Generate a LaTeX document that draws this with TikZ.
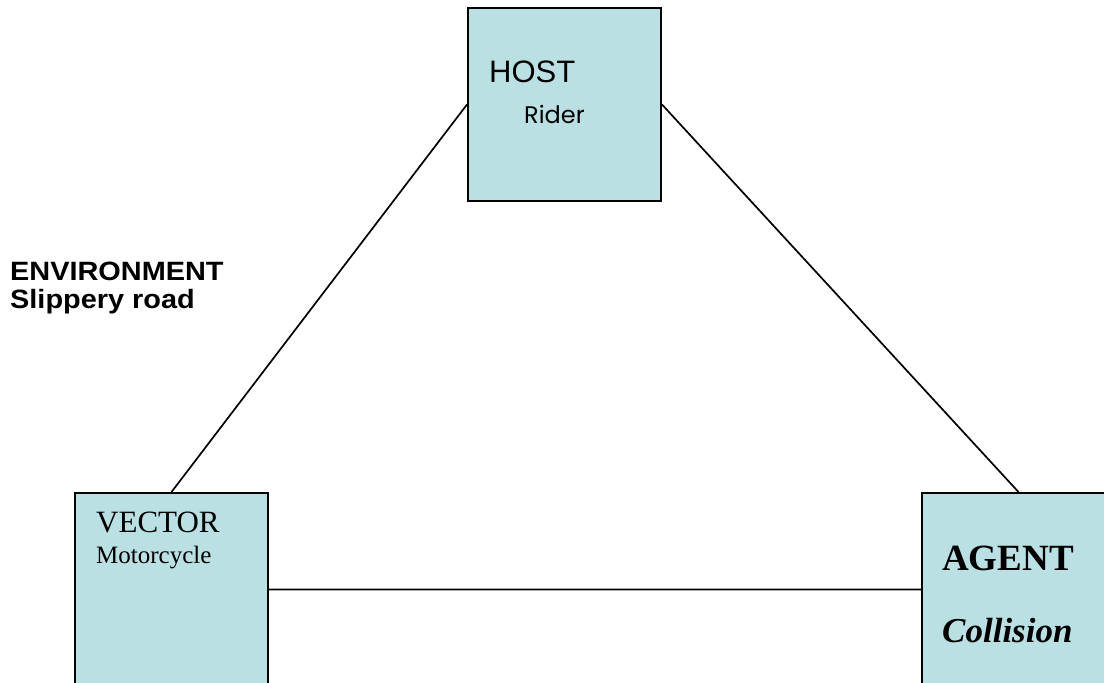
\documentclass[tikz,border=0pt]{standalone}
\usepackage{fontspec}
\setmainfont{Liberation Serif}
\newfontfamily\arialfont{Liberation Sans}
\newfontfamily\widearialfont[FakeStretch=1.09]{Liberation Sans}
\newfontfamily\gothicfont{Poppins}
\usetikzlibrary{positioning,calc}

\definecolor{boxblue}{RGB}{187,224,227}

\begin{document}
\begin{tikzpicture}[x=1pt, y=-1pt,
    box/.style={draw=black, line width=2pt, fill=boxblue,
        minimum width=193pt, minimum height=193pt,
        anchor=north west, inner sep=0pt},
    lbl/.style={anchor=base west, inner sep=0pt, text=black},
    link/.style={draw=black, line width=1.7pt}]

        \useasboundingbox (0,0) rectangle (1104,683);

        %host
        \node[box] (host) at (467,7) {};
        \node[lbl, font=\arialfont\fontsize{31}{36}\selectfont] (hostT) at ($(host.north west)+(22,75)$) {HOST};
        \node[lbl, font=\gothicfont\fontsize{24}{28}\selectfont] (hostS) at ($(host.north west)+(57,116)$) {Rider};

        %vector
        \node[box] (vec) at (74,492) {};
        \node[lbl, font=\fontsize{31}{36}\selectfont] (vecT) at ($(vec.north west)+(22,40)$) {VECTOR};
        \node[lbl, font=\fontsize{25}{30}\selectfont] (vecS) at ($(vec.north west)+(22,71)$) {Motorcycle};

        %agent
        \node[box] (agent) at (921,492) {};
        \node[lbl, font=\bfseries\fontsize{37}{42}\selectfont] (agentT) at ($(agent.north west)+(21,78)$) {AGENT};
        \node[lbl, font=\bfseries\itshape\fontsize{35}{40}\selectfont] (agentS) at ($(agent.north west)+(21,150)$) {Collision};

        %environment (base is the second line)
        \node[anchor=base west, inner sep=0pt, align=left,
            font=\widearialfont\bfseries\fontsize{26.5}{28}\selectfont] (env) at (10,308)
            {ENVIRONMENT\\Slippery road};

        \path[link]
            (host.west) -- (vec.north)
            (host.east) -- (agent.north)
            (vec.east) -- (agent.west);

\end{tikzpicture}
\end{document}
